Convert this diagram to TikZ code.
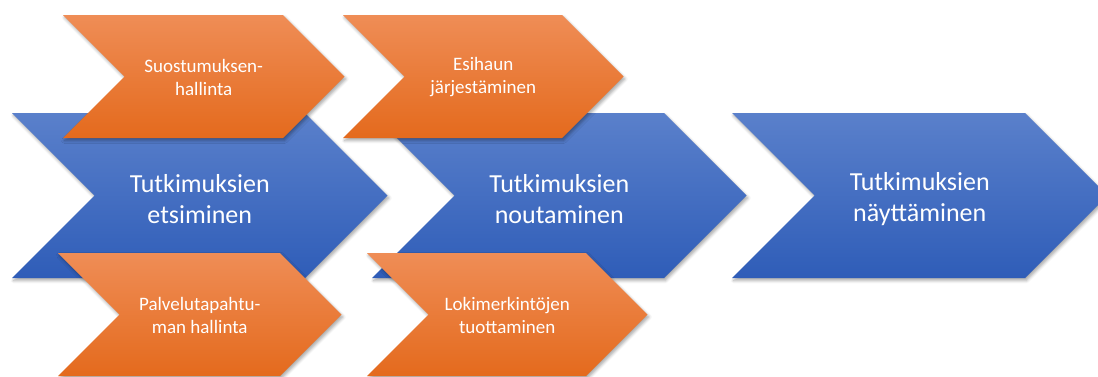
\documentclass[tikz,border=0pt]{standalone}
\usepackage{fontspec}
\setmainfont{Carlito}
\usetikzlibrary{shadows.blur}
\definecolor{orTop}{HTML}{EF8D56}
\definecolor{orMid}{HTML}{F47D2E}
\definecolor{orBot}{HTML}{E46A1D}
\definecolor{blTop}{HTML}{5A80CB}
\definecolor{blMid}{HTML}{4472C4}
\definecolor{blBot}{HTML}{2F5DB8}
\newcommand\mychev[6]{%
  \path[#1] (#3,#4) -- ++(#5,0) -- ++(#6/2,#6/2) -- ++(-#6/2,#6/2) -- ++(-#5,0) -- ++(#6/2,-#6/2) -- cycle;
  \coordinate (#2) at ({#3+#5/2+#6/4},{#4+#6/2});}
\tikzset{
  shd/.style={blur shadow={shadow xshift=1.5pt, shadow yshift=-2.5pt, shadow blur radius=3pt, shadow blur steps=6, shadow opacity=35}},
  bluechev/.style={shd, top color=blTop, middle color=blMid, bottom color=blBot},
  orchev/.style={shd, top color=orTop, middle color=orMid, bottom color=orBot},
  bluetext/.style={text=white, align=center, font=\fontsize{26}{31}\selectfont, inner sep=0pt, yshift=-3.5pt},
  ortext/.style={text=white, align=center, font=\fontsize{19}{23}\selectfont, inner sep=0pt, yshift=-0.5pt}
}
\begin{document}
\begin{tikzpicture}[x=1pt,y=-1pt]
\useasboundingbox (0,0) rectangle (1098,376);
\mychev{bluechev}{c1}{12}{113}{293}{165}
\mychev{bluechev}{c2}{372}{113}{292}{165}
\mychev{bluechev}{c3}{732}{113}{293}{165}
\mychev{orchev}{c4}{63}{15}{220}{123}
\mychev{orchev}{c5}{343}{15}{219}{123}
\mychev{orchev}{c6}{58}{253}{222}{123}
\mychev{orchev}{c7}{367}{253}{219}{123}
\node[bluetext] (t1) at (c1) {Tutkimuksien\\etsiminen};
\node[bluetext] (t2) at (c2) {Tutkimuksien\\noutaminen};
\node[bluetext] (t3) at (c3) {Tutkimuksien\\näyttäminen};
\node[ortext] (t4) at (c4) {Suostumuksen-\\hallinta};
\node[ortext] (t5) at (c5) {Esihaun\\järjestäminen};
\node[ortext] (t6) at (c6) {Palvelutapahtu-\\man hallinta};
\node[ortext] (t7) at (c7) {Lokimerkintöjen\\tuottaminen};
\end{tikzpicture}
\end{document}
